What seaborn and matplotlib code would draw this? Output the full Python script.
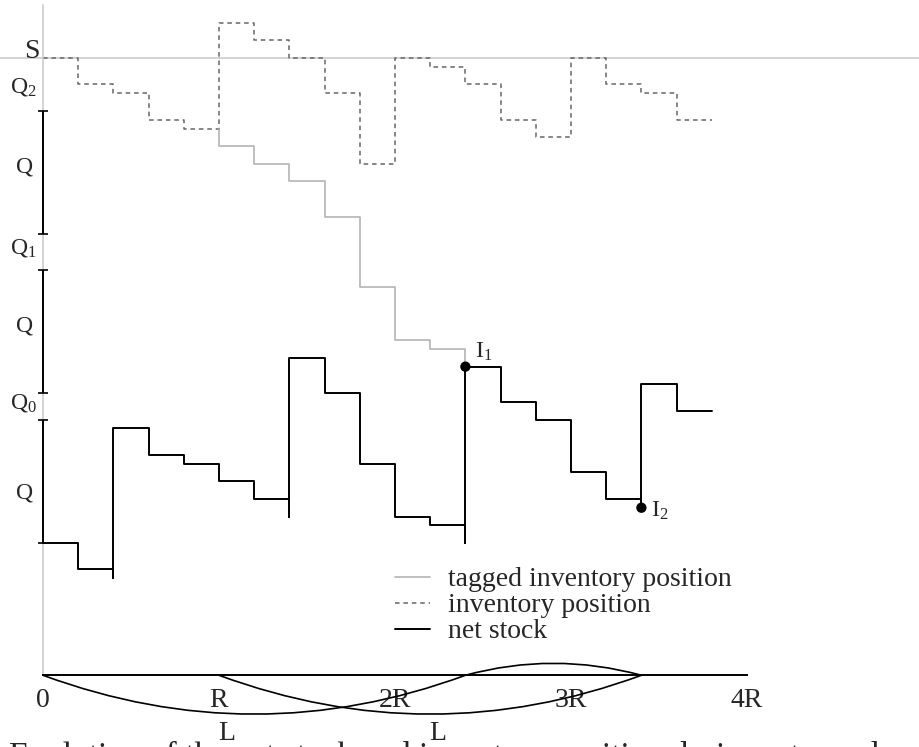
import numpy as np
import pandas as pd
import seaborn as sns
import matplotlib.pyplot as plt

# one period = R/5, review period R = 5 periods, lead time L = 12 periods
R = 5
L = 12
S = 55
Q = 14

periods = list(range(19))
net_stock = [0, -3, 13, 10, 9, 7, 5, 21, 17, 9, 3, 2, 20, 16, 14, 8, 5, 18, 15]
inv_pos = [55, 52, 51, 48, 47, 59, 57, 55, 51, 43, 55, 54, 52, 48, 46, 55, 52, 51, 48]

# order arrivals: period and lowest point of net stock just before the jump
arrival_t = [2, 7, 12, 17]
arrival_low = [-4, 3, 0, 4]

# tagged inventory position (order placed at R)
tag_t0 = 5
tag_start = 47
tag_pos = [45, 43, 41, 37, 29, 23, 22]
tag_end = 20

# Q brackets on the vertical axis
q_bottoms = [0, 17, 35]
q_labels = ["Q", "Q", "Q"]
q_label_y = [5.1, 24.0, 42.0]
gap_labels = [r"$\mathrm{Q}_0$", r"$\mathrm{Q}_1$", r"$\mathrm{Q}_2$"]
gap_label_y = [15.3, 32.8, 51.1]

# marked points
pts_t = [12, 17]
pts_y = [20, 4]
pts_labels = [r"$\mathrm{I}_1$", r"$\mathrm{I}_2$"]

tick_pos = [0, 5, 10, 15, 20]
tick_labels = ["0", "R", "2R", "3R", "4R"]

caption = "Evolution of the net stock and inventory position during a tagged cycle"


def step_path(levels, t0, spikes=None):
    xs, ys = [t0], [levels[0]]
    for i in range(1, len(levels)):
        t = t0 + i
        xs.append(t); ys.append(levels[i - 1])
        if spikes and t in spikes:
            xs.append(t); ys.append(spikes[t])
        xs.append(t); ys.append(levels[i])
    xs.append(t0 + len(levels)); ys.append(levels[-1])
    return xs, ys


sns.set_style("white")
plt.rcParams["font.family"] = ["Liberation Serif", "DejaVu Serif"]
plt.rcParams["mathtext.fontset"] = "custom"
plt.rcParams["mathtext.rm"] = "Liberation Serif"
plt.rcParams["mathtext.it"] = "Liberation Serif:italic"

# pixel mapping: t=0 at x=43px, 35.2px per period; y=0 at 543px, 8.818px per unit
px_t, px_y = 35.2, 8.818
fig = plt.figure(figsize=(9.19, 7.47), dpi=100)
ax = fig.add_axes([0, 0, 1, 1])
ax.set_xlim(-43 / px_t, (919 - 43) / px_t)
ax.set_ylim((543 - 747) / px_y, 543 / px_y)
y_axis = -15

# S level
ax.axhline(S, color="#c8c8c8", lw=1.1, zorder=1)

xs, ys = step_path(inv_pos, 0)
sns.lineplot(x=xs, y=ys, sort=False, estimator=None, ax=ax, color="#666666",
             lw=1.1, ls=(0, (3, 2.5)), label="inventory position")
h_inv = ax.lines[-1]

xs, ys = step_path(tag_pos, tag_t0)
xs = [tag_t0] + xs + [xs[-1]]
ys = [tag_start] + ys + [tag_end]
sns.lineplot(x=xs, y=ys, sort=False, estimator=None, ax=ax, color="#b4b4b4",
             lw=1.2, label="tagged inventory position")
h_tag = ax.lines[-1]

xs, ys = step_path(net_stock, 0, dict(zip(arrival_t, arrival_low)))
sns.lineplot(x=xs, y=ys, sort=False, estimator=None, ax=ax, color="black",
             lw=1.4, label="net stock", zorder=3)
h_net = ax.lines[-1]

sns.scatterplot(x=pts_t, y=pts_y, ax=ax, color="black", s=55, edgecolor="none",
                zorder=5, legend=False)
for t, y, lab in zip(pts_t, pts_y, pts_labels):
    ax.text(t + 0.27, y + (0.98 if t == 12 else -1.05), lab, fontsize=17,
            ha="left", va="baseline")

# Q brackets
q_mid = [b + Q / 2 for b in q_bottoms]
ax.errorbar(x=[0] * len(q_mid), y=q_mid, yerr=Q / 2, fmt="none", ecolor="black",
            elinewidth=1.4, capsize=3.6, capthick=1.2, zorder=4)
for y, lab in zip(q_label_y, q_labels):
    ax.text(-0.52, y, lab, fontsize=17, ha="center", va="baseline")
for y, lab in zip(gap_label_y, gap_labels):
    ax.text(-0.17, y, lab, fontsize=17, ha="right", va="baseline")
ax.text(-0.11, S, "S", fontsize=20, ha="right", va="baseline")

# axes
for side in ["top", "right"]:
    ax.spines[side].set_visible(False)
ax.spines["left"].set_position(("data", 0))
ax.spines["left"].set_bounds(y_axis, 61)
ax.spines["left"].set_color("#c8c8c8")
ax.spines["left"].set_linewidth(1.1)
ax.spines["bottom"].set_position(("data", y_axis))
ax.spines["bottom"].set_bounds(0, 20)
ax.spines["bottom"].set_color("black")
ax.spines["bottom"].set_linewidth(1.4)
ax.set_yticks([])
ax.set_xticks(tick_pos, tick_labels)
ax.set_xticks(range(21), minor=True)
ax.tick_params(axis="x", which="major", direction="out", length=7.2, width=1.2,
               color="black", labelsize=20, pad=2)
ax.tick_params(axis="x", which="minor", direction="out", length=4.3, width=1.2,
               color="black")
ax.set_xlabel("")
ax.set_ylabel("")

# lead time arcs
for a, b, rad in [(0, L, 0.184), (R, R + L, 0.184), (L, R + L, -0.136)]:
    ax.annotate("", xy=(b, y_axis), xytext=(a, y_axis),
                arrowprops=dict(arrowstyle="-", connectionstyle=f"arc3,rad={rad}",
                                shrinkA=0, shrinkB=0, lw=1.2, color="black"))
for t in [5.23, 11.22]:
    ax.text(t, -22.34, "L", fontsize=20, ha="center", va="baseline")

ax.legend(handles=[h_tag, h_inv, h_net], loc="upper left",
          bbox_to_anchor=(395 / 919, 1 - 567 / 747), bbox_transform=fig.transFigure,
          frameon=False, fontsize=20, borderpad=0, borderaxespad=0,
          handlelength=1.25, handletextpad=0.65, labelspacing=0.02)

# figure caption, cut off by the bottom edge
fig.text(9 / 919, (747 - 765) / 747, caption, fontsize=24, ha="left", va="baseline")

fig.savefig("out.png", dpi=100)
